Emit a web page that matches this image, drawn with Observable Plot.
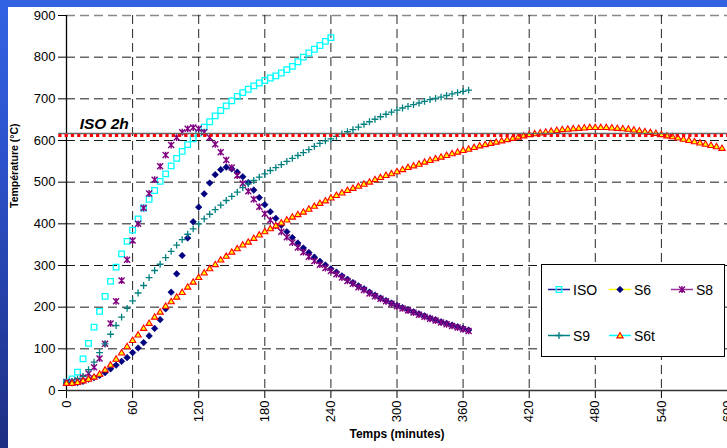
<!DOCTYPE html>
<html>
<head>
<meta charset="utf-8">
<script src="https://cdn.jsdelivr.net/npm/d3@7"></script>
<script src="https://cdn.jsdelivr.net/npm/@observablehq/plot@0.6"></script>
<style>
html, body { margin: 0; padding: 0; }
body {
  width: 727px; height: 448px; overflow: hidden; position: relative;
  background: linear-gradient(to bottom, #3263e3 0%, #2c52cc 35%, #1d2f82 100%);
  font-family: "Liberation Sans", Arial, sans-serif;
}
#paper { position: absolute; left: 8px; top: 7px; width: 719px; height: 441px; background: #fff; }
#chart { position: absolute; left: 0; top: 0; }
#legend { position: absolute; left: 541px; top: 264px; width: 184px; height: 93px;
  border: 1px solid #000; background: #fff; box-sizing: border-box; }
</style>
</head>
<body>
<div id="paper"></div>
<div id="chart"></div>
<div id="legend"></div>
<script>
// ---- data (temperature in °C, one reading every 5 minutes from t = 0) ----
const STEP = 5;
const seriesNames = ["ISO", "S6", "S8", "S9", "S6t"];
const isoValues = [20,28,44,76,113,152,190,226,262,296,328,358,385,412,438,459,480,502,520,539,
  557,574,590,604,618,632,645,659,672,683,695,706,715,723,731,738,744,750,755,762,
  770,778,789,800,810,819,828,838,847];
const s6Values = [18,18,19,22,27,31,36,43,52,61,70,79,91,102,115,131,149,170,196,236,
  280,324,366,405,440,472,498,518,530,536,532,524,513,499,481,463,446,429,413,397,
  381,367,354,342,331,320,310,301,292,284,275,267,259,251,244,236,229,222,216,210,
  204,199,194,189,184,179,174,170,165,161,157,153,149,145];
const s8Values = [20,21,24,31,41,56,77,112,161,214,264,314,360,400,438,473,506,538,565,589,
  607,620,628,631,628,620,607,591,572,553,535,516,497,478,459,441,424,409,395,381,
  368,355,343,332,321,311,302,294,287,279,271,263,256,248,241,233,226,220,214,208,
  202,197,192,187,182,177,172,168,163,159,155,151,147,143];
const s9Values = [20,22,28,34,50,68,91,112,135,156,176,197,215,234,252,271,288,303,319,334,
  349,362,375,388,400,412,423,434,445,456,466,476,487,496,504,512,520,528,535,542,
  550,557,564,571,578,586,593,599,604,610,616,621,626,632,639,645,651,657,663,668,
  673,678,682,686,690,694,698,701,704,708,712,715,718,721];
const s6tValues = [18,18,20,24,28,33,40,50,62,76,91,106,121,134,150,162,177,189,203,214,
  225,236,249,261,272,283,293,303,314,323,333,341,350,357,366,374,382,389,396,403,
  410,417,423,429,436,443,450,456,463,469,475,481,486,491,496,501,507,512,517,521,
  526,531,536,540,544,549,553,557,561,565,569,573,577,580,584,588,591,594,597,600,
  603,606,609,612,615,617,619,621,623,625,627,628,629,630,631,632,632,632,632,631,
  630,629,628,626,624,622,620,618,615,612,610,607,604,601,598,595,592,589,586,582];
const xTicks = [0,60,120,180,240,300,360,420,480,540,600];
const yTicks = [0,100,200,300,400,500,600,700,800,900];
const isoLevel = [617];      // ISO curve at 2 h (solid grey line)
const isoLevelDotted = [612]; // red dotted reference
const isoLabel = ["ISO 2h"];
const xTitle = "Temps (minutes)";
const yTitle = "Température (°C)";

const rows = vals => vals.map((T, i) => ({t: i * STEP, T}));

// ---- Excel-like marker shapes ----
const rad = size => Math.sqrt(size / Math.PI);
const symSquare = {draw(c, s) { const r = rad(s); c.rect(-r, -r, 2 * r, 2 * r); }};
const symDiamond = {draw(c, s) { const r = rad(s); c.moveTo(0, -r); c.lineTo(r, 0); c.lineTo(0, r); c.lineTo(-r, 0); c.closePath(); }};
const symStar = {draw(c, s) { const r = rad(s);
  c.moveTo(-r, -r); c.lineTo(r, r); c.moveTo(-r, r); c.lineTo(r, -r);
  c.moveTo(0, -r * 1.15); c.lineTo(0, r * 1.15); }};
const symPlus = {draw(c, s) { const r = rad(s); c.moveTo(-r, 0); c.lineTo(r, 0); c.moveTo(0, -r); c.lineTo(0, r); }};
const symTri = {draw(c, s) { const r = rad(s); c.moveTo(0, -r); c.lineTo(r * 1.05, r * 0.8); c.lineTo(-r * 1.05, r * 0.8); c.closePath(); }};

const styles = {
  ISO: {data: isoValues, symbol: symSquare, r: 2.8, fill: "none", stroke: "#00ffff", strokeWidth: 1.3, line: "#1a1a90"},
  S6:  {data: s6Values, symbol: symDiamond, r: 3.3, fill: "#000080", stroke: "#000080", strokeWidth: 0.6, line: "#ffff00"},
  S8:  {data: s8Values, symbol: symStar, r: 3.0, fill: "none", stroke: "#800080", strokeWidth: 1.4, line: "#993399"},
  S9:  {data: s9Values, symbol: symPlus, r: 3.4, fill: "none", stroke: "#008080", strokeWidth: 1.3, line: "#008080"},
  S6t: {data: s6tValues, symbol: symTri, r: 3.0, fill: "#ffff00", stroke: "#ff0000", strokeWidth: 1.1, line: "#00ffff"}
};

const dotMarks = seriesNames.map(n => {
  const s = styles[n];
  return Plot.dot(rows(s.data), {x: "t", y: "T", symbol: s.symbol, r: s.r,
    fill: s.fill, stroke: s.stroke, strokeWidth: s.strokeWidth});
});

const chart = Plot.plot({
  width: 727, height: 448,
  marginLeft: 66, marginRight: 0, marginTop: 15, marginBottom: 58,
  style: {background: "transparent", color: "#000", fontFamily: "'Liberation Sans', Arial, sans-serif", fontSize: "13px", overflow: "visible"},
  x: {domain: [0, 600]},
  y: {domain: [0, 900]},
  marks: [
    Plot.gridY(yTicks.filter(v => v > 0 && v < 900), {stroke: "#000", strokeOpacity: 0.9, strokeDasharray: "9,5"}),
    Plot.gridY([900], {stroke: "#888", strokeOpacity: 1, strokeDasharray: "9,5", strokeWidth: 1.5}),
    Plot.gridX(xTicks.filter(v => v > 0), {stroke: "#000", strokeOpacity: 0.85, strokeDasharray: "9,5"}),
    Plot.axisY({ticks: yTicks, tickSize: 8, tickPadding: 3, label: null, fontSize: 13}),
    Plot.axisX({ticks: xTicks, tickSize: 8, tickPadding: 2, tickRotate: -90, label: null, fontSize: 13}),
    Plot.ruleX([0], {stroke: "#000", strokeWidth: 1.3}),
    Plot.ruleY([0], {stroke: "#333", strokeWidth: 1.4}),
    ...dotMarks,
    Plot.ruleY(isoLevel, {x1: -7, x2: 600, stroke: "#666", strokeWidth: 1.5}),
    Plot.ruleY(isoLevelDotted, {x1: -7, x2: 600, stroke: "#ff0000", strokeWidth: 3, strokeDasharray: "3.2,3.1"}),
    Plot.text(isoLabel, {x: 12, y: isoLevel[0], text: d => d, textAnchor: "start", lineAnchor: "bottom", dy: -4,
      fontSize: 15.5, fontWeight: "bold", fontStyle: "italic", fill: "#000"}),
    Plot.text([xTitle], {frameAnchor: "bottom", dy: 47, text: d => d, fontSize: 12, fontWeight: "bold", fill: "#000"}),
    Plot.text([yTitle], {frameAnchor: "left", dx: -52, dy: 5, rotate: -90, text: d => d, fontSize: 10.5, fontWeight: "bold", fill: "#000"})
  ]
});
document.getElementById("chart").appendChild(chart);

// ---- legend (Excel style box) ----
const legendItems = [
  {name: "ISO", row: 0, x0: 6}, {name: "S6", row: 0, x0: 67}, {name: "S8", row: 0, x0: 129},
  {name: "S9", row: 1, x0: 6}, {name: "S6t", row: 1, x0: 67}
];
const lsvg = d3.select("#legend").append("svg").attr("width", 182).attr("height", 91)
  .style("position", "absolute").style("left", 0).style("top", 0);
legendItems.forEach(it => {
  const s = styles[it.name];
  const cy = it.row === 0 ? 24.5 : 70.5;
  const g = lsvg.append("g");
  g.append("line").attr("x1", it.x0).attr("x2", it.x0 + 22).attr("y1", cy).attr("y2", cy)
    .attr("stroke", s.line).attr("stroke-width", 1.5);
  g.append("path").attr("transform", `translate(${it.x0 + 11},${cy})`)
    .attr("d", d3.symbol().type(s.symbol).size(s.r * s.r * Math.PI)())
    .attr("fill", s.fill).attr("stroke", s.stroke).attr("stroke-width", s.strokeWidth);
  g.append("text").attr("x", it.x0 + 25).attr("y", cy).attr("dy", "0.36em")
    .attr("font-size", 14).attr("font-family", "'Liberation Sans', Arial, sans-serif").attr("fill", "#000")
    .text(it.name);
});
</script>
</body>
</html>
